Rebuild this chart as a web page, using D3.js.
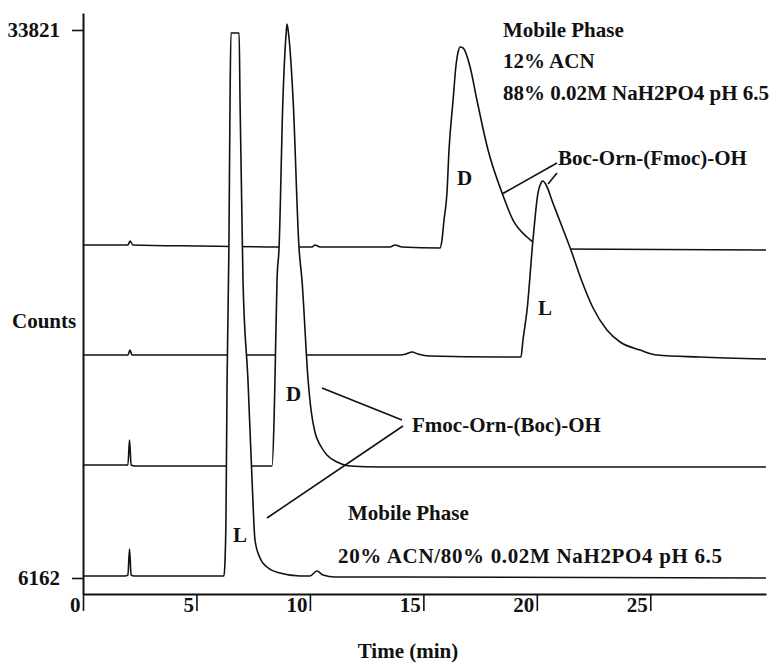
<!DOCTYPE html>
<html>
<head>
<meta charset="utf-8">
<script src="https://cdn.jsdelivr.net/npm/d3@7"></script>
<style>
  html, body { margin: 0; padding: 0; background: #fff; }
  svg { display: block; }
  text { font-family: "Liberation Serif", "Times New Roman", serif; font-weight: bold; fill: #111; }
</style>
</head>
<body>
<svg id="chart" width="777" height="663"></svg>
<script>
// Retention time (min) and detector counts for each chromatogram trace, top to bottom.
// Boc-Orn-(Fmoc)-OH, D isomer (12% ACN mobile phase)
const bocDTime   = [0, 1.98, 2.07, 2.20, 5.16, 9.56, 10.09, 10.22, 10.45, 13.53, 13.75, 14.06, 15.73, 15.82, 15.91, 16.04, 16.13, 16.31, 16.44, 16.53, 16.62, 16.75, 17.06, 17.36, 17.85, 18.47, 18.95, 19.57, 19.83, 20.36, 21.02, 30.10];
const bocDCounts = [22969, 22969, 23170, 22969, 22918, 22867, 22867, 22969, 22867, 22867, 22969, 22867, 22817, 23221, 24230, 25593, 27763, 30287, 32053, 32709, 32962, 32911, 31952, 30287, 27763, 25593, 24230, 23372, 23120, 22867, 22767, 22716];

// Boc-Orn-(Fmoc)-OH, L isomer
const bocLTime   = [0, 1.98, 2.07, 2.16, 5.16, 13.97, 14.24, 14.50, 14.76, 15.29, 18.38, 19.30, 19.39, 19.57, 19.83, 20.05, 20.18, 20.27, 20.41, 20.71, 21.15, 21.55, 21.90, 22.48, 23.09, 23.67, 24.55, 25.30, 27.19, 30.10];
const bocLCounts = [17417, 17417, 17669, 17417, 17417, 17417, 17467, 17568, 17467, 17366, 17316, 17316, 18174, 19688, 23221, 25593, 26097, 26198, 25997, 25088, 23776, 22565, 21404, 19789, 18679, 18073, 17669, 17417, 17316, 17215];

// Fmoc-Orn-(Boc)-OH, D isomer (20% ACN mobile phase)
const fmocDTime   = [0, 1.98, 2.05, 2.12, 2.29, 5.16, 8.33, 8.42, 8.46, 8.55, 8.64, 8.81, 8.95, 8.99, 9.06, 9.26, 9.52, 9.65, 9.92, 10.05, 10.22, 10.45, 10.75, 11.19, 11.77, 13.09, 30.10];
const fmocDCounts = [11865, 11865, 13127, 11865, 11815, 11815, 11815, 14136, 16155, 21202, 22817, 30287, 33618, 34124, 33618, 30287, 22817, 21202, 16155, 14641, 13531, 12874, 12370, 12017, 11815, 11764, 11764];

// Fmoc-Orn-(Boc)-OH, L isomer (detector saturates at the apex)
const fmocLTime   = [0, 1.85, 1.98, 2.05, 2.12, 2.25, 4.27, 6.21, 6.26, 6.30, 6.35, 6.43, 6.48, 6.52, 6.88, 6.92, 7.05, 7.27, 7.45, 7.58, 7.80, 8.11, 8.68, 9.56, 10.00, 10.31, 10.58, 11.11, 13.97, 30.10];
const fmocLCounts = [6263, 6263, 6313, 7626, 6313, 6263, 6263, 6263, 7070, 9089, 16155, 22817, 30287, 33668, 33668, 30287, 21202, 16155, 11108, 8080, 7171, 6717, 6414, 6263, 6263, 6515, 6313, 6212, 6212, 6162];

const traces = [
  { time: bocDTime,  counts: bocDCounts },
  { time: bocLTime,  counts: bocLCounts },
  { time: fmocDTime, counts: fmocDCounts },
  { time: fmocLTime, counts: fmocLCounts }
];

const timeTicks   = [0, 5, 10, 15, 20, 25];
const countTicks  = [6162, 33821];

// Scales
const x = d3.scaleLinear().domain([0, 30.1]).range([83, 766]);
const y = d3.scaleLinear().domain([6162, 33821]).range([578, 30]);
const plotBottom = 594, plotTop = 13;
const yAxisScale = y.copy().domain([y.invert(plotBottom), y.invert(plotTop)]).range([plotBottom, plotTop]);

const svg = d3.select("#chart");

// Traces: each drawn with a white fill beneath it so lower traces hide upper baselines
const area = d3.area().curve(d3.curveMonotoneX)
  .x(d => x(d[0])).y0(plotBottom).y1(d => y(d[1]));
const line = d3.line().curve(d3.curveMonotoneX)
  .x(d => x(d[0])).y(d => y(d[1]));

const traceG = svg.append("g");
traces.forEach(tr => {
  const pts = tr.time.map((t, i) => [t, tr.counts[i]]);
  traceG.append("path").attr("d", area(pts)).attr("fill", "#fff").attr("stroke", "none");
  traceG.append("path").attr("d", line(pts)).attr("fill", "none")
    .attr("stroke", "#111").attr("stroke-width", 1.6).attr("stroke-linejoin", "round");
});

// X axis
const xAxis = svg.append("g").attr("transform", `translate(0,${plotBottom})`)
  .call(d3.axisBottom(x).tickValues(timeTicks).tickSize(17).tickSizeOuter(0).tickFormat(d3.format("d")));
xAxis.select(".domain").attr("stroke", "#111").attr("stroke-width", 2);
xAxis.selectAll(".tick line").attr("stroke", "#111").attr("stroke-width", 1.6);
xAxis.selectAll(".tick text")
  .attr("text-anchor", "end").attr("x", -3).attr("y", 3).attr("dy", "0.71em")
  .style("font-size", "21px").attr("fill", "#111");

// Y axis
const yAxis = svg.append("g").attr("transform", "translate(83,0)")
  .call(d3.axisLeft(yAxisScale).tickValues(countTicks).tickSize(11).tickSizeOuter(0).tickFormat(d3.format("d")));
yAxis.select(".domain").attr("stroke", "#111").attr("stroke-width", 2);
yAxis.selectAll(".tick line").attr("stroke", "#111").attr("stroke-width", 1.6);
yAxis.selectAll(".tick text").attr("x", -23).attr("dy", "0.30em")
  .style("font-size", "21px").attr("fill", "#111");

// Axis titles
svg.append("text").attr("x", 408).attr("y", 658).attr("text-anchor", "middle")
  .style("font-size", "21px").text("Time (min)");
svg.append("text").attr("x", 12).attr("y", 328)
  .style("font-size", "21px").text("Counts");

// Annotations
const ann = svg.append("g").style("font-size", "21px");
const label = (tx, ty, s) => ann.append("text").attr("x", tx).attr("y", ty).text(s);

label(503, 37, "Mobile Phase");
label(503, 68, "12% ACN");
label(503, 100, "88% 0.02M NaH2PO4 pH 6.5");

label(558, 165, "Boc-Orn-(Fmoc)-OH");
label(412, 432, "Fmoc-Orn-(Boc)-OH");

label(348, 520, "Mobile Phase");
label(338, 563, "20% ACN/80% 0.02M NaH2PO4 pH 6.5")
  .attr("textLength", 384).attr("lengthAdjust", "spacing");

label(457, 185, "D");
label(286, 401, "D");
label(538, 315, "L");
label(233, 542, "L");

// Leader lines from the compound names to their peaks
const leaders = [
  [557, 163, 502, 194],
  [557, 173, 548, 184],
  [402, 420, 322, 388],
  [403, 426, 267, 518]
];
svg.append("g").selectAll("line").data(leaders).join("line")
  .attr("x1", d => d[0]).attr("y1", d => d[1]).attr("x2", d => d[2]).attr("y2", d => d[3])
  .attr("stroke", "#111").attr("stroke-width", 1.6);
</script>
</body>
</html>
